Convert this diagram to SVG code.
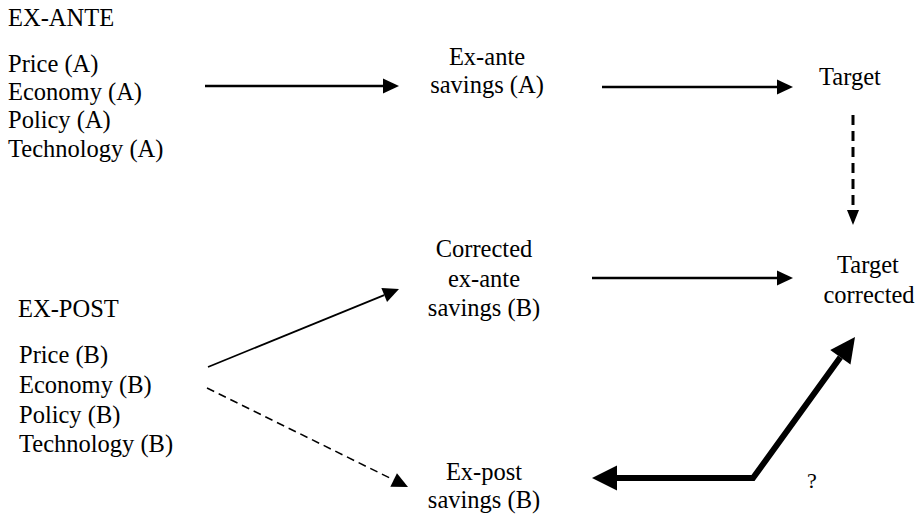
<svg xmlns="http://www.w3.org/2000/svg" width="918" height="515" viewBox="0 0 918 515">
  <style>
    text { font-family: "Liberation Serif", "Times New Roman", serif; font-size: 24.5px; fill: #000; }
    .mid { text-anchor: middle; }
    .q { font-size: 22px; }
    .conn { fill: none; stroke: #000; }
    .thin { stroke-width: 2.5; }
    .diag { stroke-width: 1.8; }
    .dash { stroke-width: 1.5; stroke-dasharray: 8 5; }
    .vdash { stroke-width: 3; stroke-dasharray: 10 6; }
    .bold { stroke-width: 6; stroke-linejoin: miter; }
  </style>
  <defs>
    <marker id="head" markerUnits="userSpaceOnUse" markerWidth="20" markerHeight="20" refX="0" refY="0" viewBox="0 -10 20 20" orient="auto" overflow="visible">
      <path d="M0,-7.5 L16,0 L0,7.5 Z" fill="#000"/>
    </marker>
    <marker id="headSmall" markerUnits="userSpaceOnUse" markerWidth="20" markerHeight="20" refX="0" refY="0" viewBox="0 -10 20 20" orient="auto" overflow="visible">
      <path d="M0,-6 L15,0 L0,6 Z" fill="#000"/>
    </marker>
    <marker id="headBig" markerUnits="userSpaceOnUse" markerWidth="30" markerHeight="30" refX="0" refY="0" viewBox="0 -15 30 30" orient="auto-start-reverse" overflow="visible">
      <path d="M0,-12.5 L25,0 L0,12.5 Z" fill="#000"/>
    </marker>
  </defs>

  <rect width="918" height="515" fill="#fff"/>

  <g id="ex-ante-drivers">
    <text x="8" y="26">EX-ANTE</text>
    <text x="8" y="72">Price (A)</text>
    <text x="8" y="100">Economy (A)</text>
    <text x="8" y="128">Policy (A)</text>
    <text x="8" y="157">Technology (A)</text>
  </g>

  <g id="ex-post-drivers">
    <text x="18" y="317">EX-POST</text>
    <text x="19" y="363">Price (B)</text>
    <text x="19" y="393">Economy (B)</text>
    <text x="19" y="423">Policy (B)</text>
    <text x="19" y="452">Technology (B)</text>
  </g>

  <g id="ex-ante-savings">
    <text class="mid" x="487" y="65">Ex-ante</text>
    <text class="mid" x="487" y="93">savings (A)</text>
  </g>

  <g id="corrected-savings">
    <text class="mid" x="484" y="257">Corrected</text>
    <text class="mid" x="484" y="287">ex-ante</text>
    <text class="mid" x="484" y="316">savings (B)</text>
  </g>

  <g id="ex-post-savings">
    <text class="mid" x="484" y="480">Ex-post</text>
    <text class="mid" x="484" y="508">savings (B)</text>
  </g>

  <g id="target">
    <text class="mid" x="850" y="85">Target</text>
  </g>

  <g id="target-corrected">
    <text class="mid" x="868" y="273">Target</text>
    <text class="mid" x="869" y="303">corrected</text>
  </g>

  <g id="question">
    <text class="q mid" x="812" y="488">?</text>
  </g>

  <g id="connectors">
    <path class="conn thin" d="M205,86 H383" marker-end="url(#head)"/>
    <path class="conn thin" d="M602,87 H777" marker-end="url(#head)"/>
    <path class="conn thin" d="M592,278 H777" marker-end="url(#head)"/>
    <path class="conn diag" d="M208,367 L384.2,295.05" marker-end="url(#head)"/>
    <path class="conn dash" d="M207,388 L393.65,479.93" marker-end="url(#head)"/>
    <path class="conn vdash" d="M853,115 V210" marker-end="url(#headSmall)"/>
    <path class="conn bold" d="M617,478 L753,478 L840.35,357.26" marker-start="url(#headBig)" marker-end="url(#headBig)"/>
  </g>
</svg>
